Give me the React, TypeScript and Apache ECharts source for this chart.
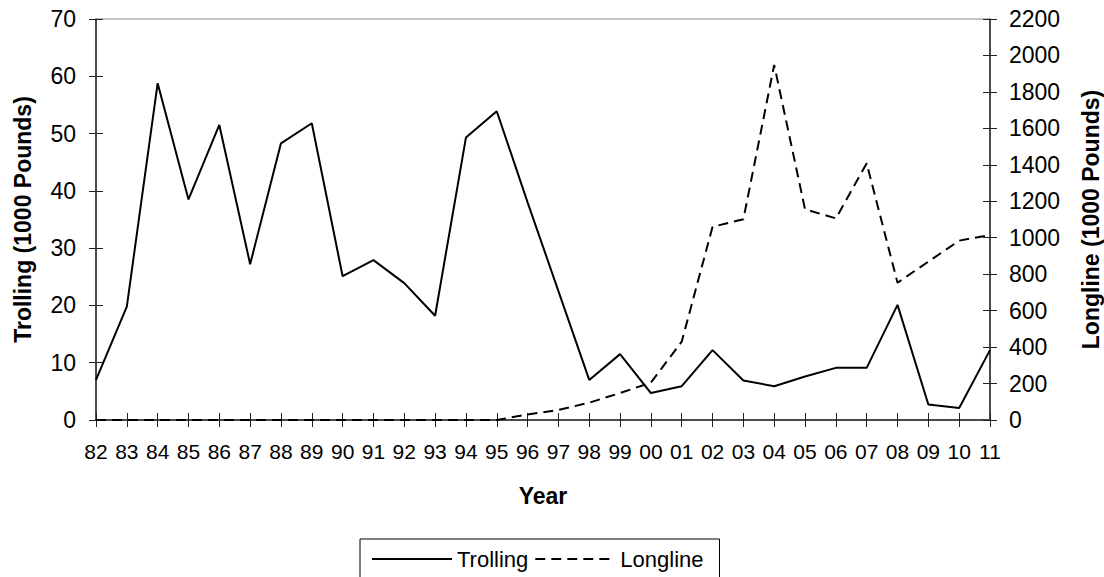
import React, { useEffect, useRef } from "react";
import * as echarts from "echarts";

const years = ["82","83","84","85","86","87","88","89","90","91","92","93","94","95","96","97","98","99","00","01","02","03","04","05","06","07","08","09","10","11"];
const trolling = [7.0, 19.8, 58.8, 38.5, 51.5, 27.2, 48.3, 51.8, 25.1, 27.9, 23.9, 18.2, 49.3, 53.9, 38, 22.5, 7.0, 11.5, 4.7, 5.9, 12.2, 6.9, 5.9, 7.6, 9.1, 9.1, 20.1, 2.7, 2.1, 12.2];
const longline = [0, 0, 0, 0, 0, 0, 0, 0, 0, 0, 0, 0, 0, 0, 30, 55, 95, 148, 205, 430, 1060, 1101, 1948, 1156, 1106, 1408, 753, 869, 984, 1015];
const leftTicks = { min: 0, max: 70, interval: 10 };
const rightTicks = { min: 0, max: 2200, interval: 200 };

const FONT = "'Liberation Sans', Arial, Helvetica, sans-serif";
const AX = "#222";

export default function App() {
  const ref = useRef<HTMLDivElement>(null);
  useEffect(() => {
    const chart = echarts.init(ref.current!, null, { renderer: "svg" });
    const hiddenY = (position: string, t: any) => ({
      type: "value",
      position,
      ...t,
      axisLine: { show: false },
      axisTick: { show: true, inside: true, length: 7, lineStyle: { color: AX, width: 1 } },
      axisLabel: { show: false },
      splitLine: { show: false },
    });
    chart.setOption({
      animation: false,
      textStyle: { fontFamily: FONT, color: "#000" },
      grid: {
        left: 96, right: 114, top: 19, bottom: 157,
        containLabel: false,
        outerBoundsMode: "none",
        show: true, borderColor: "#8c8c8c", borderWidth: 1,
      },
      legend: {
        left: 360,
        top: 539,
        orient: "horizontal",
        padding: [9, 16, 40, 11],
        itemWidth: 80,
        itemHeight: 14,
        itemGap: 6,
        borderColor: "#000",
        borderWidth: 1,
        itemStyle: { opacity: 0 },
        textStyle: { fontSize: 22, color: "#000", fontFamily: FONT, lineHeight: 22 },
        data: [{ name: "Trolling" }, { name: "Longline" }],
      },
      xAxis: [
        {
          type: "category",
          data: years,
          boundaryGap: false,
          position: "bottom",
          name: "Year",
          nameLocation: "middle",
          nameGap: 64,
          nameTextStyle: { fontSize: 23, fontWeight: "bold", color: "#000", fontFamily: FONT },
          axisLine: { show: true, onZero: false, lineStyle: { color: AX, width: 1.5 } },
          axisTick: { show: true, inside: false, length: 7, interval: 0, lineStyle: { color: AX, width: 1 } },
          axisLabel: { interval: 0, fontSize: 21, margin: 21, color: "#000", fontFamily: FONT },
          splitLine: { show: false },
        },
        {
          type: "category",
          data: years,
          boundaryGap: false,
          position: "bottom",
          axisLine: { show: false, onZero: false },
          axisTick: { show: true, inside: true, length: 7, interval: 0, lineStyle: { color: AX, width: 1 } },
          axisLabel: { show: false },
          splitLine: { show: false },
        },
      ],
      yAxis: [
        {
          type: "value",
          position: "left",
          ...leftTicks,
          name: "Trolling (1000 Pounds)",
          nameLocation: "middle",
          nameRotate: 90,
          nameGap: 62,
          nameTextStyle: { fontSize: 23, fontWeight: "bold", color: "#000", fontFamily: FONT },
          axisLine: { show: true, lineStyle: { color: AX, width: 1.5 } },
          axisTick: { show: true, inside: false, length: 7, lineStyle: { color: AX, width: 1 } },
          axisLabel: { fontSize: 23, margin: 20, color: "#000", fontFamily: FONT },
          splitLine: { show: false },
        },
        {
          type: "value",
          position: "right",
          ...rightTicks,
          name: "Longline (1000 Pounds)",
          nameLocation: "middle",
          nameRotate: 90,
          nameGap: 89,
          nameTextStyle: { fontSize: 23, fontWeight: "bold", color: "#000", fontFamily: FONT },
          axisLine: { show: true, lineStyle: { color: AX, width: 1.5 } },
          axisTick: { show: true, inside: false, length: 7, lineStyle: { color: AX, width: 1 } },
          axisLabel: { fontSize: 23, margin: 19, color: "#000", fontFamily: FONT, formatter: (v: number) => String(v) },
          splitLine: { show: false },
        },
        hiddenY("left", leftTicks),
        hiddenY("right", rightTicks),
      ],
      series: [
        {
          name: "Trolling",
          type: "line",
          data: trolling,
          xAxisIndex: 0,
          yAxisIndex: 0,
          symbol: "none",
          lineStyle: { color: "#000", width: 2, type: "solid" },
          itemStyle: { color: "#000" },
        },
        {
          name: "Longline",
          type: "line",
          data: longline,
          xAxisIndex: 0,
          yAxisIndex: 1,
          symbol: "none",
          lineStyle: { color: "#000", width: 2, type: [10, 6] },
          itemStyle: { color: "#000" },
        },
      ],
    });
    return () => chart.dispose();
  }, []);
  return (
    <div
      ref={ref}
      style={{ position: "fixed", left: 0, top: 0, width: 1104, height: 577, background: "#fff" }}
    />
  );
}
